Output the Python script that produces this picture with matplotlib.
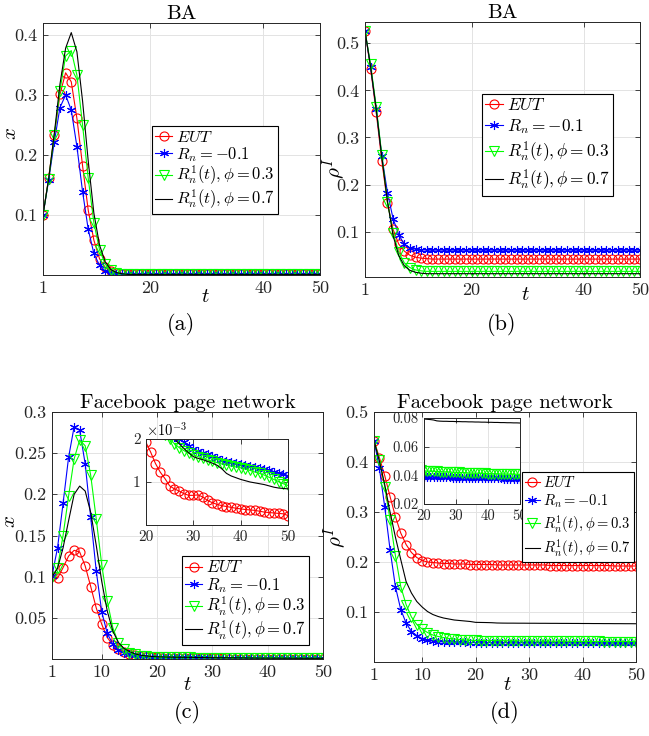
import numpy as np
import matplotlib.pyplot as plt
from matplotlib.ticker import FixedLocator, FixedFormatter

plt.rcParams['font.family'] = 'serif'
plt.rcParams['font.serif'] = ['cmr10', 'DejaVu Serif']
plt.rcParams['mathtext.fontset'] = 'cm'
plt.rcParams['axes.unicode_minus'] = False

t = np.arange(1, 51)

# (a) BA, fraction x
a_eut = [0.100, 0.162, 0.233, 0.301, 0.337, 0.322, 0.261, 0.182, 0.108, 0.058,
         0.027, 0.013, 0.006, 0.003, 0.002, 0.001, 0.001, 0.001, 0.001, 0.001,
         0.001, 0.001, 0.001, 0.001, 0.001, 0.001, 0.001, 0.001, 0.001, 0.001,
         0.001, 0.001, 0.001, 0.001, 0.001, 0.001, 0.001, 0.001, 0.001, 0.001,
         0.001, 0.001, 0.001, 0.001, 0.001, 0.001, 0.001, 0.001, 0.001, 0.001]
a_rn = [0.100, 0.158, 0.222, 0.279, 0.300, 0.275, 0.214, 0.139, 0.076, 0.036,
        0.016, 0.007, 0.003, 0.002, 0.001, 0.001, 0.001, 0.001, 0.001, 0.001,
        0.001, 0.001, 0.001, 0.001, 0.001, 0.001, 0.001, 0.001, 0.001, 0.001,
        0.001, 0.001, 0.001, 0.001, 0.001, 0.001, 0.001, 0.001, 0.001, 0.001,
        0.001, 0.001, 0.001, 0.001, 0.001, 0.001, 0.001, 0.001, 0.001, 0.001]
a_phi3 = [0.100, 0.160, 0.233, 0.307, 0.365, 0.374, 0.333, 0.250, 0.161, 0.087,
          0.042, 0.018, 0.008, 0.004, 0.002, 0.001, 0.001, 0.001, 0.001, 0.001,
          0.001, 0.001, 0.001, 0.001, 0.001, 0.001, 0.001, 0.001, 0.001, 0.001,
          0.001, 0.001, 0.001, 0.001, 0.001, 0.001, 0.001, 0.001, 0.001, 0.001,
          0.001, 0.001, 0.001, 0.001, 0.001, 0.001, 0.001, 0.001, 0.001, 0.001]
a_phi7 = [0.100, 0.160, 0.236, 0.318, 0.378, 0.404, 0.372, 0.290, 0.190, 0.103,
          0.050, 0.022, 0.009, 0.004, 0.002, 0.001, 0.001, 0.001, 0.001, 0.001,
          0.001, 0.001, 0.001, 0.001, 0.001, 0.001, 0.001, 0.001, 0.001, 0.001,
          0.001, 0.001, 0.001, 0.001, 0.001, 0.001, 0.001, 0.001, 0.001, 0.001,
          0.001, 0.001, 0.001, 0.001, 0.001, 0.001, 0.001, 0.001, 0.001, 0.001]

# (b) BA, rho^I
b_eut = [0.526, 0.446, 0.353, 0.250, 0.161, 0.105, 0.074, 0.059, 0.050, 0.046,
         0.044, 0.043, 0.042, 0.042, 0.042, 0.042, 0.042, 0.042, 0.042, 0.042,
         0.042, 0.042, 0.042, 0.042, 0.042, 0.042, 0.042, 0.042, 0.042, 0.042,
         0.042, 0.042, 0.042, 0.042, 0.042, 0.042, 0.042, 0.042, 0.042, 0.042,
         0.042, 0.042, 0.042, 0.042, 0.042, 0.042, 0.042, 0.042, 0.042, 0.042]
b_rn = [0.526, 0.450, 0.360, 0.260, 0.183, 0.128, 0.094, 0.073, 0.066, 0.063,
        0.062, 0.061, 0.061, 0.061, 0.061, 0.061, 0.061, 0.061, 0.061, 0.061,
        0.061, 0.061, 0.061, 0.061, 0.061, 0.061, 0.061, 0.061, 0.061, 0.061,
        0.061, 0.061, 0.061, 0.061, 0.061, 0.061, 0.061, 0.061, 0.061, 0.061,
        0.061, 0.061, 0.061, 0.061, 0.061, 0.061, 0.061, 0.061, 0.061, 0.061]
b_phi3 = [0.526, 0.455, 0.365, 0.263, 0.163, 0.098, 0.057, 0.034, 0.024, 0.019,
          0.017, 0.016, 0.016, 0.016, 0.016, 0.016, 0.016, 0.016, 0.016, 0.016,
          0.016, 0.016, 0.016, 0.016, 0.016, 0.016, 0.016, 0.016, 0.016, 0.016,
          0.016, 0.016, 0.016, 0.016, 0.016, 0.016, 0.016, 0.016, 0.016, 0.016,
          0.016, 0.016, 0.016, 0.016, 0.016, 0.016, 0.016, 0.016, 0.016, 0.016]
b_phi7 = [0.526, 0.450, 0.360, 0.258, 0.165, 0.092, 0.050, 0.028, 0.018, 0.014,
          0.012, 0.011, 0.011, 0.011, 0.011, 0.011, 0.011, 0.011, 0.011, 0.011,
          0.011, 0.011, 0.011, 0.011, 0.011, 0.011, 0.011, 0.011, 0.011, 0.011,
          0.011, 0.011, 0.011, 0.011, 0.011, 0.011, 0.011, 0.011, 0.011, 0.011,
          0.011, 0.011, 0.011, 0.011, 0.011, 0.011, 0.011, 0.011, 0.011, 0.011]

# (c) Facebook page network, fraction x
c_eut = [0.101, 0.098, 0.111, 0.125, 0.132, 0.130, 0.113, 0.088, 0.062, 0.042,
         0.026, 0.017, 0.012, 0.009, 0.0065, 0.0048, 0.0037, 0.0030, 0.0024, 0.00192,
         0.00169, 0.00143, 0.00123, 0.00108, 0.00091, 0.00084, 0.00079, 0.00073, 0.00069, 0.00069,
         0.00070, 0.00065, 0.00057, 0.00052, 0.00048, 0.00045, 0.00043, 0.00041, 0.00039, 0.000375,
         0.00036, 0.00035, 0.00034, 0.00032, 0.00030, 0.00029, 0.00028, 0.00027, 0.00026, 0.00022]
c_rn = [0.101, 0.135, 0.189, 0.245, 0.282, 0.278, 0.237, 0.172, 0.107, 0.057,
        0.031, 0.018, 0.011, 0.0075, 0.0055, 0.0045, 0.0038, 0.0033, 0.0030, 0.0028,
        0.0026, 0.0025, 0.0023, 0.0022, 0.0021, 0.00205, 0.00200, 0.00192, 0.00184, 0.00177,
        0.00172, 0.00168, 0.00165, 0.00161, 0.00156, 0.00152, 0.00149, 0.00146, 0.00144, 0.00143,
        0.00140, 0.00138, 0.00136, 0.00133, 0.00131, 0.00128, 0.00124, 0.00121, 0.00118, 0.00114]
c_phi3 = [0.100, 0.111, 0.150, 0.198, 0.243, 0.266, 0.259, 0.223, 0.170, 0.114,
          0.070, 0.038, 0.020, 0.012, 0.0078, 0.0055, 0.0042, 0.0034, 0.0029, 0.0026,
          0.0024, 0.0023, 0.0022, 0.0021, 0.00200, 0.00189, 0.00180, 0.00173, 0.00167, 0.00163,
          0.00159, 0.00155, 0.00151, 0.00148, 0.00145, 0.00142, 0.00140, 0.00137, 0.00135, 0.00133,
          0.00130, 0.00127, 0.00123, 0.00120, 0.00116, 0.00111, 0.00106, 0.00101, 0.00096, 0.00092]
c_phi7 = [0.100, 0.110, 0.135, 0.168, 0.200, 0.210, 0.204, 0.178, 0.138, 0.094,
          0.058, 0.034, 0.020, 0.013, 0.0090, 0.0062, 0.0046, 0.0037, 0.0031, 0.0027,
          0.0025, 0.0023, 0.0022, 0.0021, 0.00205, 0.00200, 0.00189, 0.00178, 0.00168, 0.00159,
          0.00155, 0.00152, 0.00148, 0.00144, 0.00139, 0.00131, 0.00120, 0.00114, 0.00110, 0.00106,
          0.00103, 0.00100, 0.00098, 0.00096, 0.00094, 0.00091, 0.00088, 0.00086, 0.00085, 0.00084]

# (d) Facebook page network, rho^I
d_eut = [0.443, 0.409, 0.373, 0.331, 0.291, 0.258, 0.235, 0.219, 0.209, 0.203,
         0.200, 0.199, 0.198, 0.197, 0.197, 0.196, 0.196, 0.196, 0.195, 0.195,
         0.195, 0.195, 0.195, 0.194, 0.194, 0.194, 0.194, 0.194, 0.194, 0.194,
         0.194, 0.194, 0.194, 0.193, 0.193, 0.193, 0.193, 0.193, 0.193, 0.193,
         0.193, 0.193, 0.193, 0.193, 0.193, 0.192, 0.192, 0.192, 0.192, 0.192]
d_rn = [0.443, 0.388, 0.311, 0.225, 0.151, 0.105, 0.078, 0.061, 0.053, 0.047,
        0.044, 0.042, 0.041, 0.040, 0.0398, 0.0395, 0.0393, 0.0391, 0.0390, 0.0389,
        0.0388, 0.0388, 0.0387, 0.0387, 0.0386, 0.0386, 0.0385, 0.0385, 0.0384, 0.0384,
        0.0383, 0.0383, 0.0382, 0.0382, 0.0381, 0.0381, 0.0380, 0.0380, 0.0379, 0.0379,
        0.0379, 0.0378, 0.0378, 0.0378, 0.0377, 0.0377, 0.0377, 0.0376, 0.0376, 0.0376]
d_phi3 = [0.443, 0.405, 0.351, 0.285, 0.213, 0.151, 0.115, 0.090, 0.075, 0.066,
          0.059, 0.054, 0.051, 0.049, 0.047, 0.046, 0.045, 0.044, 0.0435, 0.0431,
          0.0430, 0.0429, 0.0428, 0.0427, 0.0426, 0.0425, 0.0424, 0.0423, 0.0422, 0.0421,
          0.0420, 0.0419, 0.0418, 0.0417, 0.0416, 0.0415, 0.0415, 0.0414, 0.0413, 0.0412,
          0.0412, 0.0411, 0.0411, 0.0410, 0.0410, 0.0409, 0.0409, 0.0408, 0.0408, 0.0407]
d_phi7 = [0.443, 0.402, 0.355, 0.300, 0.250, 0.205, 0.161, 0.138, 0.121, 0.110,
          0.101, 0.095, 0.091, 0.088, 0.086, 0.084, 0.083, 0.082, 0.081, 0.0793,
          0.0791, 0.0789, 0.0786, 0.0780, 0.0778, 0.0777, 0.0777, 0.0776, 0.0776, 0.0775,
          0.0775, 0.0774, 0.0774, 0.0773, 0.0773, 0.0772, 0.0772, 0.0771, 0.0771, 0.0770,
          0.0770, 0.0769, 0.0769, 0.0768, 0.0768, 0.0767, 0.0767, 0.0766, 0.0766, 0.0765]

labels = [r'$EUT$', r'$R_n=-0.1$', r'$R_n^1(t),\phi=0.3$', r'$R_n^1(t),\phi=0.7$']
colors = ['#ff0000', '#0000ff', '#00ff00', 'black']
markers = ['o', (6, 2, 0), 'v', None]

W, H = 649, 736


def px_rect(left, top, right, bottom):
    # pixel box (from top-left) -> figure fraction
    return [left / W, 1 - bottom / H, (right - left) / W, (bottom - top) / H]


def draw_series(ax, series):
    handles = []
    for y, c, m in zip(series, colors, markers):
        h, = ax.plot(t, y, color=c, marker=m, markersize=6.5, markerfacecolor='none',
                     markeredgewidth=0.8, lw=0.8)
        handles.append(h)
    return handles


def style(ax, size):
    ax.tick_params(direction='in', top=True, right=True, length=3.5, width=0.6,
                   labelsize=size, colors='#262626', pad=4)
    for s in ax.spines.values():
        s.set_linewidth(0.7)
        s.set_color('#262626')
    ax.grid(True, color='#e3e3e3', lw=0.7)
    ax.set_axisbelow(True)


def set_ticks(axis, vals, texts):
    axis.set_major_locator(FixedLocator(vals))
    axis.set_major_formatter(FixedFormatter(texts))


fig = plt.figure(figsize=(W / 100, H / 100), dpi=100)

panels = [
    dict(rect=px_rect(43, 23, 320, 275), data=[a_eut, a_rn, a_phi3, a_phi7], title='BA',
         ylim=(0, 0.42), yt=[0.1, 0.2, 0.3, 0.4], ytl=['0.1', '0.2', '0.3', '0.4'],
         xt=[1, 20, 40, 50], ylab='$x$', ylab_pos=(11, 133), tpos=(205, 297),
         leg=(152, 126), legsize=11.9, legspace=0.02, sub='(a)', sub_pos=(181, 325)),
    dict(rect=px_rect(365, 22, 640, 277), data=[b_eut, b_rn, b_phi3, b_phi7], title='BA',
         ylim=(0.004, 0.545), yt=[0.1, 0.2, 0.3, 0.4, 0.5],
         ytl=['0.1', '0.2', '0.3', '0.4', '0.5'],
         xt=[1, 20, 40, 50], ylab=r'$\rho^I$', ylab_pos=(334, 168), tpos=(525, 295),
         leg=(482, 94), legsize=12.4, legspace=0.2, sub='(b)', sub_pos=(502, 325)),
    dict(rect=px_rect(52, 412, 323, 659), data=[c_eut, c_rn, c_phi3, c_phi7],
         title='Facebook page network',
         ylim=(0, 0.3), yt=[0.05, 0.1, 0.15, 0.2, 0.25, 0.3],
         ytl=['0.05', '0.1', '0.15', '0.2', '0.25', '0.3'],
         xt=[1, 10, 20, 30, 40, 50], ylab='$x$', ylab_pos=(10, 522), tpos=(187, 685),
         leg=(182, 556), legsize=12.0, legspace=0.02, sub='(c)', sub_pos=(187, 713)),
    dict(rect=px_rect(374, 412, 636, 662), data=[d_eut, d_rn, d_phi3, d_phi7],
         title='Facebook page network',
         ylim=(0, 0.5), yt=[0.1, 0.2, 0.3, 0.4, 0.5],
         ytl=['0.1', '0.2', '0.3', '0.4', '0.5'],
         xt=[1, 10, 20, 30, 40, 50], ylab=r'$\rho^I$', ylab_pos=(335, 537), tpos=(507, 685),
         leg=(522, 472), legsize=10.5, legspace=0.18, sub='(d)', sub_pos=(505, 713)),
]

for p in panels:
    ax = fig.add_axes(p['rect'])
    handles = draw_series(ax, p['data'])
    ax.set_xlim(1, 50)
    ax.set_ylim(*p['ylim'])
    set_ticks(ax.yaxis, p['yt'], p['ytl'])
    set_ticks(ax.xaxis, p['xt'], [str(v) for v in p['xt']])
    style(ax, 13)
    ax.set_title(p['title'], fontsize=15, pad=3)
    fig.text(p['ylab_pos'][0] / W, 1 - p['ylab_pos'][1] / H, p['ylab'], rotation=90,
             ha='center', va='center', fontsize=15)
    fig.text(p['tpos'][0] / W, 1 - p['tpos'][1] / H, '$t$', ha='center', va='center',
             fontsize=15)
    fig.text(p['sub_pos'][0] / W, 1 - p['sub_pos'][1] / H, p['sub'], ha='center',
             va='center', fontsize=16)
    leg = fig.legend(handles, labels, loc='upper left',
                     bbox_to_anchor=(p['leg'][0] / W, 1 - p['leg'][1] / H),
                     fontsize=p['legsize'], handlelength=1.0, handletextpad=0.25,
                     borderpad=0.2, labelspacing=p['legspace'], borderaxespad=0,
                     fancybox=False, framealpha=1, edgecolor='black')
    leg.get_frame().set_linewidth(0.8)

# inset of (c)
axc = fig.add_axes(px_rect(146, 439, 288, 525))
draw_series(axc, [c_eut, c_rn, c_phi3, c_phi7])
axc.set_xlim(20, 50)
axc.set_ylim(0, 0.002)
set_ticks(axc.xaxis, [20, 30, 40, 50], ['20', '30', '40', '50'])
set_ticks(axc.yaxis, [0.001, 0.002], ['1', '2'])
style(axc, 11)
axc.text(0.0, 1.0, r'$\times10^{-3}$', transform=axc.transAxes, ha='left', va='bottom',
         fontsize=10.5)

# inset of (d)
axd = fig.add_axes(px_rect(424, 418, 520, 504))
draw_series(axd, [d_eut, d_rn, d_phi3, d_phi7])
axd.set_xlim(20, 50)
axd.set_ylim(0.02, 0.08)
set_ticks(axd.xaxis, [20, 30, 40, 50], ['20', '30', '40', '50'])
set_ticks(axd.yaxis, [0.02, 0.04, 0.06, 0.08], ['0.02', '0.04', '0.06', '0.08'])
style(axd, 10.5)

fig.savefig('out.png', dpi=100)
